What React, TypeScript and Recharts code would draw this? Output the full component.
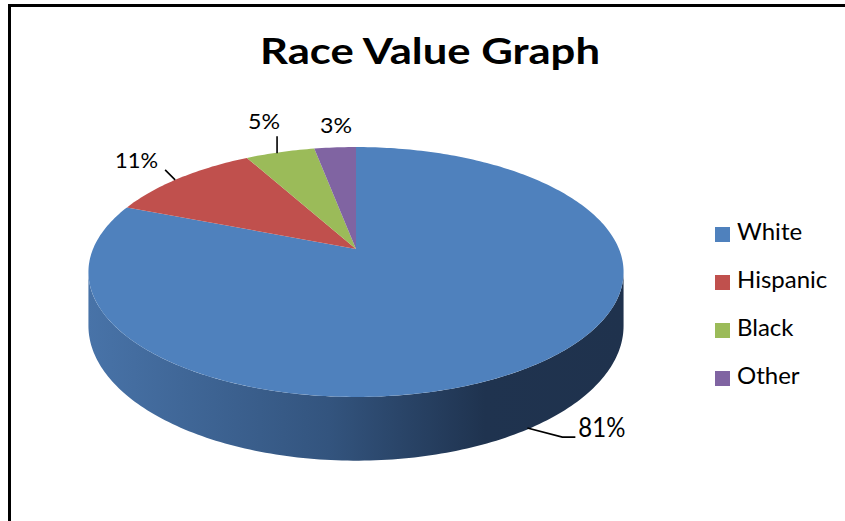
import React from "react";
import { PieChart, Pie, Cell, Legend } from "recharts";

const categories = ["White", "Hispanic", "Black", "Other"];
const shares = [81, 11, 5, 3];
const colors = ["#4F81BD", "#C0504D", "#9BBB59", "#8064A2"];
const pctLabels = ["81%", "11%", "5%", "3%"];
const title = "Race Value Graph";

const data = categories.map((name, i) => ({ name, value: shares[i] }));

// perspective parameters for the tilted disc
const PERSP = 0.184;
const FLAT = 0.459;
const DEPTH = 52;
const FONT = "Lato, 'Open Sans', sans-serif";

function proj(cx: number, cy: number, r: number, deg: number, drop = 0): [number, number] {
  const a = (deg * Math.PI) / 180;
  const u = Math.cos(a);
  const w = Math.sin(a);
  const f = 1 / (1 + PERSP * w);
  return [cx + r * u * f, cy - r * FLAT * w * f + drop * f];
}

function arcPoints(cx: number, cy: number, r: number, from: number, to: number, drop = 0) {
  const pts: [number, number][] = [];
  const n = Math.max(2, Math.ceil(Math.abs(to - from)));
  for (let k = 0; k <= n; k++) {
    pts.push(proj(cx, cy, r, from + ((to - from) * k) / n, drop));
  }
  return pts;
}

const toPath = (pts: [number, number][]) =>
  pts.map((p, i) => `${i === 0 ? "M" : "L"}${p[0].toFixed(2)},${p[1].toFixed(2)}`).join(" ");

const silhouette = (Math.asin(PERSP) * 180) / Math.PI; // 10.6 deg
const visLow = -180 + silhouette;
const visHigh = -silhouette;

// label placement relative to each slice's anchor on the rim
const labelLayout = [
  { useDrop: true, line: [[-3, 0], [32, 9], [45, 9]], tx: 48, ty: 9, anchor: "start", size: 26, len: 47 },
  { useDrop: false, line: [[-5, 2], [-15, -8]], tx: -22, ty: -10, anchor: "end", size: 21, len: 43 },
  { useDrop: false, line: [[-3, 1], [-3, -16]], tx: -16, ty: -23, anchor: "middle", size: 21, len: 32 },
  { useDrop: false, line: [], tx: 1, ty: -14, anchor: "middle", size: 21, len: 32 },
];

function renderSlice(props: any) {
  const { cx, cy, outerRadius, startAngle, endAngle, midAngle, index } = props;
  const color = colors[index];
  const hi = Math.max(startAngle, endAngle);
  const lo = Math.min(startAngle, endAngle);
  const sides: React.ReactNode[] = [];
  for (const shift of [-360, 0, 360]) {
    const a = Math.max(lo, visLow + shift);
    const b = Math.min(hi, visHigh + shift);
    if (b > a) {
      const top = arcPoints(cx, cy, outerRadius, b, a);
      const bottom = arcPoints(cx, cy, outerRadius, a, b, DEPTH);
      sides.push(
        <path key={`side-${shift}`} d={toPath([...top, ...bottom]) + " Z"} fill={`url(#side-${index})`} />
      );
    }
  }
  const topFace = [[cx, cy] as [number, number], ...arcPoints(cx, cy, outerRadius, startAngle, endAngle)];
  const lay = labelLayout[index];
  const [ax, ay] = proj(cx, cy, outerRadius, midAngle, lay.useDrop ? DEPTH : 0);
  const linePts = lay.line.map((p) => [ax + p[0], ay + p[1]] as [number, number]);
  return (
    <g key={`slice-${index}`}>
      {sides}
      <path d={toPath(topFace) + " Z"} fill={color} />
      {linePts.length > 1 && (
        <path d={toPath(linePts)} fill="none" stroke="#000" strokeWidth={1.6} />
      )}
      <text
        x={ax + lay.tx}
        y={ay + lay.ty}
        textAnchor={lay.anchor as any}
        fontFamily={FONT}
        fontSize={lay.size}
        fill="#000"
        textLength={lay.len}
        lengthAdjust="spacingAndGlyphs"
      >
        {pctLabels[index]}
      </text>
    </g>
  );
}

function LegendContent(props: any) {
  const items = [...(props.payload || [])].sort(
    (a: any, b: any) => categories.indexOf(a.value) - categories.indexOf(b.value)
  );
  return (
    <div style={{ position: "relative", width: 130, height: 200 }}>
      {items.map((p: any, i: number) => (
        <div key={p.value} style={{ position: "absolute", left: 0, top: i * 48, height: 27 }}>
          <span
            style={{
              position: "absolute",
              left: 0,
              top: 8,
              width: 15,
              height: 15,
              background: p.color,
            }}
          />
          <span
            style={{
              position: "absolute",
              left: 22,
              top: -2,
              fontFamily: FONT,
              fontSize: 24,
              lineHeight: "28.8px",
              whiteSpace: "nowrap",
              color: "#000",
            }}
          >
            {p.value}
          </span>
        </div>
      ))}
    </div>
  );
}

export default function App() {
  return (
    <div style={{ position: "absolute", left: 0, top: 0, width: 845, height: 521, background: "#fff" }}>
      <div
        style={{
          position: "absolute",
          left: 8,
          top: 4,
          width: 837,
          height: 517,
          borderTop: "3px solid #000",
          borderLeft: "3px solid #000",
          boxSizing: "border-box",
        }}
      />
      <svg width={845} height={100} style={{ position: "absolute", left: 0, top: 0 }}>
        <text
          x={260}
          y={64}
          fontFamily={FONT}
          fontWeight="bold"
          fontSize={37}
          textLength={340}
          lengthAdjust="spacingAndGlyphs"
          fill="#000"
        >
          {title}
        </text>
      </svg>
      <div style={{ position: "absolute", left: 0, top: 0 }}>
        <PieChart width={845} height={521} margin={{ top: 0, right: 0, bottom: 0, left: 0 }}>
          <defs>
            {colors.map((c, i) => (
              <linearGradient
                key={i}
                id={`side-${i}`}
                gradientUnits="userSpaceOnUse"
                x1={88}
                y1={0}
                x2={624}
                y2={0}
              >
                <stop offset="0" stopColor="#4873A8" />
                <stop offset="0.45" stopColor="#33547E" />
                <stop offset="0.74" stopColor="#1F334F" />
                <stop offset="1" stopColor="#1F324D" />
              </linearGradient>
            ))}
          </defs>
          <Pie
            data={data}
            dataKey="value"
            nameKey="name"
            cx={356}
            cy={249}
            outerRadius={263}
            startAngle={90}
            endAngle={-270}
            stroke="none"
            fillOpacity={0}
            labelLine={false}
            label={renderSlice}
            isAnimationActive={false}
          >
            {data.map((d, i) => (
              <Cell key={d.name} fill={colors[i]} />
            ))}
          </Pie>
          <Legend
            layout="vertical"
            align="right"
            verticalAlign="middle"
            content={<LegendContent />}
            wrapperStyle={{ left: 715, top: 219, right: "auto", width: 130 }}
          />
        </PieChart>
      </div>
    </div>
  );
}
